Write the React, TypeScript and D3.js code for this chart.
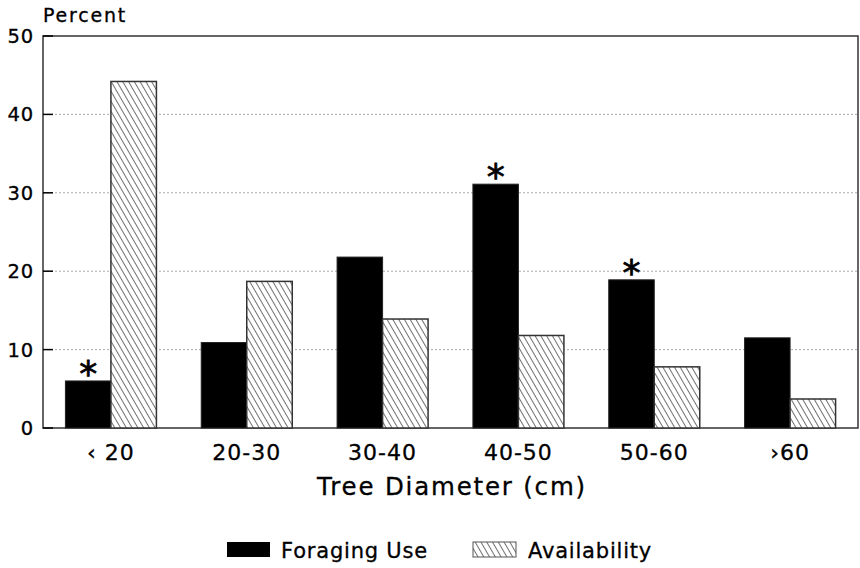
import React, { useRef, useEffect } from "react";
import * as d3 from "d3";

const categories = ["‹ 20", "20-30", "30-40", "40-50", "50-60", "›60"];
const foragingUse = [6.0, 10.9, 21.8, 31.1, 18.9, 11.5];
const availability = [44.2, 18.7, 13.9, 11.8, 7.8, 3.7];
const significant = [true, false, false, true, true, false];
const yTicks = [0, 10, 20, 30, 40, 50];

const FONT = "'DejaVu Sans', Arial, sans-serif";

export default function App() {
  const ref = useRef<SVGSVGElement>(null);

  useEffect(() => {
    const width = 860;
    const height = 568;
    const margin = { top: 36, right: 2, bottom: 140, left: 43 };

    const svg = d3.select(ref.current);
    svg.selectAll("*").remove();
    svg.attr("width", width).attr("height", height);

    // diagonal hatch for availability
    const pat = svg
      .append("defs")
      .append("pattern")
      .attr("id", "hatch")
      .attr("patternUnits", "userSpaceOnUse")
      .attr("width", 5)
      .attr("height", 5)
      .attr("patternTransform", "rotate(-30)");
    pat.append("rect").attr("width", 5).attr("height", 5).attr("fill", "#fff");
    pat
      .append("line")
      .attr("x1", 0)
      .attr("y1", 0)
      .attr("x2", 0)
      .attr("y2", 5)
      .attr("stroke", "#111")
      .attr("stroke-width", 1.2);

    const x = d3
      .scaleBand()
      .domain(categories)
      .range([margin.left, width - margin.right])
      .paddingInner(0.33)
      .paddingOuter(0.165);

    const y = d3
      .scaleLinear()
      .domain([0, 50])
      .range([428, margin.top]);

    const bw = x.bandwidth() / 2;

    // grid lines
    svg
      .append("g")
      .selectAll("line")
      .data(yTicks.slice(1, -1))
      .enter()
      .append("line")
      .attr("x1", margin.left)
      .attr("x2", width - margin.right)
      .attr("y1", d => y(d))
      .attr("y2", d => y(d))
      .attr("stroke", "#aaa")
      .attr("stroke-width", 1)
      .attr("stroke-dasharray", "2,2");

    // frame
    svg
      .append("rect")
      .attr("x", margin.left)
      .attr("y", y(50))
      .attr("width", width - margin.right - margin.left)
      .attr("height", y(0) - y(50))
      .attr("fill", "none")
      .attr("stroke", "#333")
      .attr("stroke-width", 1.5);

    const g = svg.append("g");

    // Foraging use bars
    g.selectAll(".bar-use")
      .data(foragingUse)
      .enter()
      .append("rect")
      .attr("x", (d, i) => x(categories[i])!)
      .attr("y", d => y(d))
      .attr("width", bw)
      .attr("height", d => y(0) - y(d))
      .attr("fill", "#000")
      .attr("stroke", "#222")
      .attr("stroke-width", 1);

    // Availability bars
    g.selectAll(".bar-avail")
      .data(availability)
      .enter()
      .append("rect")
      .attr("x", (d, i) => x(categories[i])! + bw)
      .attr("y", d => y(d))
      .attr("width", bw)
      .attr("height", d => y(0) - y(d))
      .attr("fill", "url(#hatch)")
      .attr("stroke", "#333")
      .attr("stroke-width", 1.5);

    // asterisks over significant bars
    foragingUse.forEach((d, i) => {
      if (!significant[i]) return;
      g.append("text")
        .attr("x", x(categories[i])! + bw / 2)
        .attr("y", y(d) + 5)
        .attr("text-anchor", "middle")
        .attr("font-family", FONT)
        .attr("font-size", 36)
        .attr("fill", "#000")
        .attr("stroke", "#000")
        .attr("stroke-width", 0.8)
        .text("*");
    });

    const label = (sel: any) =>
      sel
        .attr("font-family", FONT)
        .attr("fill", "#000")
        .attr("stroke", "#000")
        .attr("stroke-width", 0.3);

    // y ticks
    const yAxis = svg.append("g");
    yTicks.forEach(t => {
      yAxis
        .append("line")
        .attr("x1", margin.left)
        .attr("x2", margin.left + 10)
        .attr("y1", y(t))
        .attr("y2", y(t))
        .attr("stroke", "#000")
        .attr("stroke-width", 1.5);
      yAxis
        .append("text")
        .attr("x", 34)
        .attr("y", y(t) + 7)
        .attr("text-anchor", "end")
        .attr("font-size", 19.5)
        .attr("letter-spacing", 0.8)
        .call(label)
        .text(t);
    });

    svg
      .append("text")
      .attr("x", 43)
      .attr("y", 22)
      .attr("font-size", 19)
      .attr("letter-spacing", 1.8)
      .call(label)
      .text("Percent");

    // x labels
    categories.forEach(c => {
      svg
        .append("text")
        .attr("x", x(c)! + x.bandwidth() / 2)
        .attr("y", 460)
        .attr("text-anchor", "middle")
        .attr("font-size", 22)
        .attr("letter-spacing", 1)
        .call(label)
        .text(c);
    });

    svg
      .append("text")
      .attr("x", 452)
      .attr("y", 495)
      .attr("text-anchor", "middle")
      .attr("font-size", 24.5)
      .attr("letter-spacing", 1.8)
      .call(label)
      .text("Tree Diameter (cm)");

    // legend
    const leg = svg.append("g");
    leg
      .append("rect")
      .attr("x", 227)
      .attr("y", 542)
      .attr("width", 43)
      .attr("height", 15)
      .attr("fill", "#000");
    leg
      .append("text")
      .attr("x", 281)
      .attr("y", 558)
      .attr("font-size", 21)
      .attr("letter-spacing", 0.8)
      .call(label)
      .text("Foraging Use");
    leg
      .append("rect")
      .attr("x", 473)
      .attr("y", 542)
      .attr("width", 43)
      .attr("height", 15)
      .attr("fill", "url(#hatch)")
      .attr("stroke", "#555")
      .attr("stroke-width", 1);
    leg
      .append("text")
      .attr("x", 528)
      .attr("y", 558)
      .attr("font-size", 21)
      .attr("letter-spacing", 0.8)
      .call(label)
      .text("Availability");
  }, []);

  return (
    <div style={{ position: "absolute", left: 0, top: 0 }}>
      <svg ref={ref} style={{ display: "block" }}></svg>
    </div>
  );
}
